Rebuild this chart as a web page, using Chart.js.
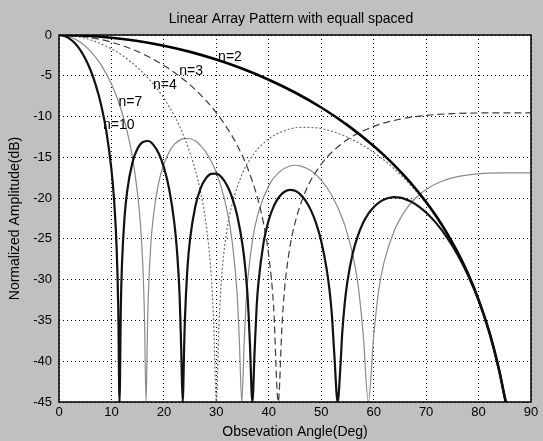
<!DOCTYPE html>
<html><head><meta charset="utf-8">
<script src="https://cdn.jsdelivr.net/npm/chart.js@4.4.1/dist/chart.umd.min.js"></script>
<style>html,body{margin:0;padding:0;background:#c0c0c0;}canvas{display:block;}</style>
</head><body>
<canvas id="c" width="543" height="441"></canvas>
<script>
const titleText = 'Linear Array Pattern with equall spaced';
const xTitle = 'Obsevation Angle(Deg)';
const yTitle = 'Normalized Amplitude(dB)';
const xTickLabels = ['0','10','20','30','40','50','60','70','80','90'];
const yTickLabels = ['0','-5','-10','-15','-20','-25','-30','-35','-40','-45'];
const seriesNames = ['n=2','n=3','n=4','n=7','n=10'];
const labelX = [32.6, 25.2, 20.2, 13.6, 11.4];
const labelY = [-2.7, -4.4, -6.1, -8.2, -11.1];

const angN2 = [0,5,10,15,20,25,30,35,40,45,50,55,60,62,64,66,68,70,72,74,76,78,80,82,83,84,85,85.2];
const dbN2  = [0,-0.08,-0.33,-0.74,-1.32,-2.07,-3.01,-4.14,-5.48,-7.05,-8.89,-11.05,-13.60,-14.76,-16.01,-17.37,-18.85,-20.48,-22.29,-24.32,-26.63,-29.29,-32.45,-36.31,-38.64,-41.31,-44.45,-45];

const angN3 = [0,5,10,15,20,22,24,26,28,30,32,34,36,38,39,40,41,41.5,41.81,42.5,43,44,45,47,50,55,60,65,70,75,80,85,90];
const dbN3  = [0,-0.22,-0.88,-2.03,-3.73,-4.60,-5.58,-6.71,-8.02,-9.54,-11.35,-13.55,-16.38,-20.32,-23.11,-27.09,-34.25,-42.6,-45,-35.85,-31.24,-26.12,-23.04,-19.19,-15.85,-12.82,-11.21,-10.32,-9.86,-9.64,-9.56,-9.54,-9.54];

const angN4 = [0,3,5,8,10,12,15,18,20,22,24,26,27,28,29,29.5,30,30.5,31,32,33,35,37,40,43,46,49,52,55,58,61,64,67,70,73,76,78,80,82,84,85,85.2];
const dbN4  = [0,-0.15,-0.41,-1.07,-1.69,-2.47,-4.00,-6.03,-7.76,-9.92,-12.70,-16.56,-19.26,-22.99,-29.24,-35.4,-45,-35.6,-29.74,-23.99,-20.76,-16.94,-14.70,-12.74,-11.73,-11.33,-11.38,-11.80,-12.53,-13.56,-14.86,-16.46,-18.37,-20.64,-23.36,-26.66,-29.31,-32.46,-36.32,-41.31,-44.46,-45];

const angN7 = [0,2,4,6,8,10,11,12,13,14,15,15.5,16,16.3,16.6,16.9,17,17.5,18,19,20,21,22,23,24,25,26,27,28,29,30,31,32,33,34,34.4,34.85,35.3,35.7,36,37,38,40,42,44,45,46,48,50,52,54,55,56,57,58,58.99,60,61,62,64,66,68,70,73,76,80,85,90];
const dbN7  = [0,-0.21,-0.85,-1.97,-3.63,-6.02,-7.57,-9.47,-11.85,-14.97,-19.55,-23.01,-28.49,-34.62,-45,-35.02,-32.56,-25.76,-22.20,-18.14,-15.81,-14.34,-13.42,-12.89,-12.67,-12.72,-13.01,-13.56,-14.36,-15.46,-16.90,-18.81,-21.40,-25.21,-32.08,-37.67,-45,-37.86,-32.43,-29.88,-24.76,-21.82,-18.47,-16.79,-16.07,-15.97,-16.04,-16.62,-17.79,-19.65,-22.44,-24.38,-26.93,-30.52,-36.67,-45,-36.92,-31.11,-27.81,-23.88,-21.53,-19.99,-18.93,-17.93,-17.36,-17.02,-16.91,-16.90];

const angN10 = [0,1,2,3,4,5,6,7,8,9,10,10.5,11,11.3,11.54,11.8,12,12.5,13,14,15,16,17,18,19,20,21,22,22.5,23,23.3,23.58,23.9,24,24.5,25,26,27,28,29,30,31,32,33,34,35,35.5,36,36.4,36.87,37.3,37.7,38,39,40,41,42,43,44,45,46,47,48,49,50,51,51.5,52,52.5,53.13,53.7,54,54.5,55,56,57,58,59,60,61,62,63,64,65,66,67,68,69,70,72,74,76,78,80,82,84,85,85.2];
const dbN10  = [0,-0.11,-0.44,-0.99,-1.80,-2.88,-4.29,-6.11,-8.48,-11.70,-16.52,-20.21,-26.25,-33.58,-45,-33.01,-28.26,-22.32,-19.14,-15.65,-13.90,-13.11,-13.00,-13.47,-14.51,-16.23,-18.86,-23.10,-26.46,-31.98,-38.43,-45,-37.34,-35.03,-28.47,-24.96,-20.99,-18.81,-17.59,-17.03,-16.99,-17.44,-18.38,-19.90,-22.19,-25.78,-28.46,-32.43,-37.82,-45,-38.76,-33.16,-30.58,-25.48,-22.67,-20.92,-19.83,-19.22,-18.99,-19.10,-19.54,-20.30,-21.44,-23.04,-25.28,-28.55,-30.86,-34.06,-39.18,-45,-40.2,-36.6,-32.78,-30.21,-26.80,-24.59,-23.03,-21.91,-21.11,-20.54,-20.17,-19.96,-19.89,-19.95,-20.12,-20.39,-20.76,-21.22,-21.77,-23.13,-24.84,-26.93,-29.46,-32.53,-36.35,-41.32,-44.46,-45];

const FONT = "'Liberation Sans', Arial, Helvetica, sans-serif";
const pts = (a, d) => a.map((v, i) => ({x: v, y: d[i]}));

const deco = {
  id: 'deco',
  beforeDraw(chart) {
    const {ctx, chartArea: a} = chart;
    ctx.save();
    ctx.fillStyle = '#c0c0c0';
    ctx.fillRect(0, 0, chart.width, chart.height);
    ctx.fillStyle = '#ffffff';
    ctx.fillRect(a.left, a.top, a.right - a.left, a.bottom - a.top);
    ctx.restore();
  },
  afterDatasetsDraw(chart) {
    const {ctx, chartArea: a, scales: {x, y}} = chart;
    ctx.save();
    ctx.strokeStyle = '#000';
    ctx.lineWidth = 1.5;
    ctx.strokeRect(a.left, a.top, a.right - a.left, a.bottom - a.top);
    ctx.fillStyle = '#000';
    ctx.font = '14px ' + FONT;
    ctx.textAlign = 'center';
    ctx.textBaseline = 'middle';
    seriesNames.forEach((t, i) => ctx.fillText(t, x.getPixelForValue(labelX[i]), y.getPixelForValue(labelY[i])));
    ctx.fillText(titleText, 291, 19);
    ctx.restore();
  }
};

const line = (label, data, color, width, dash, order) => ({
  label, data, borderColor: color, borderWidth: width, borderDash: dash,
  pointRadius: 0, fill: false, cubicInterpolationMode: 'monotone', clip: 0, order
});

new Chart(document.getElementById('c'), {
  type: 'line',
  data: {
    datasets: [
      line(seriesNames[4], pts(angN10, dbN10), '#111111', 2.2, [], 0),
      line(seriesNames[0], pts(angN2, dbN2), '#000000', 2.6, [], 1),
      line(seriesNames[1], pts(angN3, dbN3), '#3c3c3c', 1.2, [7, 4], 2),
      line(seriesNames[2], pts(angN4, dbN4), '#6e6e6e', 1.2, [2, 2], 3),
      line(seriesNames[3], pts(angN7, dbN7), '#8a8a8a', 1.2, [], 4)
    ]
  },
  options: {
    responsive: false,
    animation: false,
    devicePixelRatio: 1,
    layout: {padding: {top: 35, right: 12, left: 0, bottom: 0}},
    plugins: {legend: {display: false}, tooltip: {enabled: false}, title: {display: false}},
    scales: {
      x: {
        type: 'linear', min: 0, max: 90,
        afterFit(s) { s.height = 39; },
        afterBuildTicks(s) { s.ticks = xTickLabels.map(t => ({value: +t})); },
        ticks: {callback: v => xTickLabels.find(t => +t === v), color: '#000', font: {size: 13, family: FONT}, padding: 3, maxRotation: 0, autoSkip: false},
        grid: {color: '#000', lineWidth: 1, drawTicks: false},
        border: {display: false, dash: [1, 3]},
        title: {display: true, text: xTitle, color: '#000', font: {size: 14, family: FONT}, padding: {top: 0, bottom: 0}}
      },
      y: {
        type: 'linear', min: -45, max: 0,
        afterFit(s) { s.width = 59; },
        afterBuildTicks(s) { s.ticks = yTickLabels.map(t => ({value: +t})).sort((p, q) => p.value - q.value); },
        ticks: {callback: v => yTickLabels.find(t => +t === v), color: '#000', font: {size: 13, family: FONT}, padding: 7, autoSkip: false},
        grid: {color: '#000', lineWidth: 1, drawTicks: false},
        border: {display: false, dash: [1, 3]},
        title: {display: true, text: yTitle, color: '#000', font: {size: 14, family: FONT}, padding: {top: 7, bottom: 0}}
      }
    }
  },
  plugins: [deco]
});
</script>
</body></html>
